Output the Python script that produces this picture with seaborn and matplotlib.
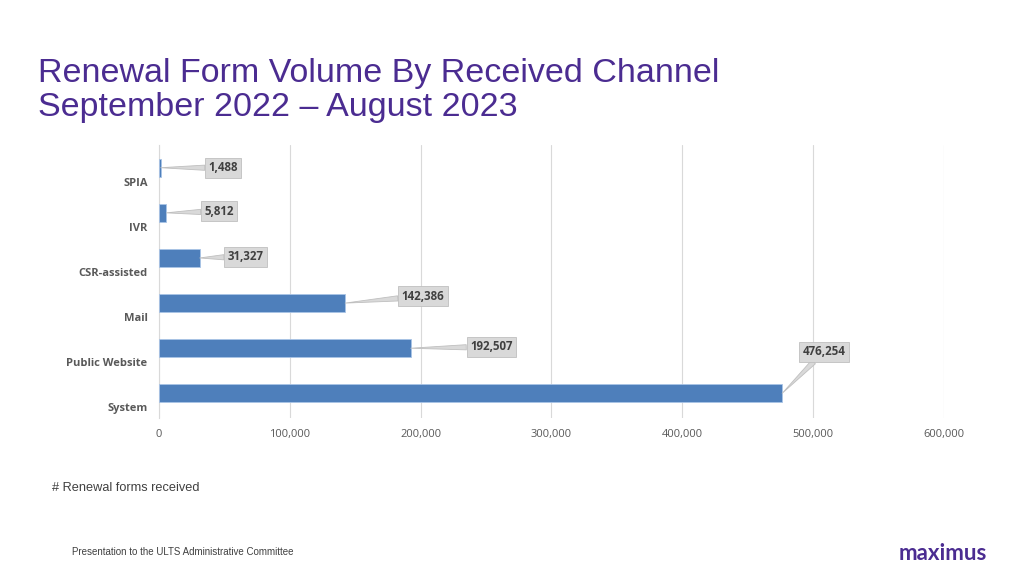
import matplotlib
matplotlib.use("Agg")
import matplotlib.pyplot as plt
import seaborn as sns
import pandas as pd

# data
channels = ["SPIA", "IVR", "CSR-assisted", "Mail", "Public Website", "System"]
forms = [1488, 5812, 31327, 142386, 192507, 476254]
x_ticks = [0, 100000, 200000, 300000, 400000, 500000, 600000]

# callout offsets (points) from bar end, styling only
label_offsets = [(45, 0), (38, 1), (33, 1), (56, 5), (58, 1), (30, 30)]

df = pd.DataFrame({"channel": channels, "forms": forms})

sns.set_theme(style="white")
plt.rcParams["font.family"] = ["Liberation Sans", "DejaVu Sans"]

fig = plt.figure(figsize=(10.24, 5.76), dpi=100)
ax = fig.add_axes([0.155, 0.274, 0.767, 0.474])

sns.barplot(data=df, y="channel", x="forms", orient="h", color="#4E7FBB",
            saturation=1, width=0.4, ax=ax, zorder=3)
for p in ax.patches:
    p.set_edgecolor("#A9C4E6")
    p.set_linewidth(0.6)

ax.set_xlim(0, 600000)
ax.set_ylim(5.55, -0.5)
ax.set_xticks(x_ticks)
ax.set_xticklabels([f"{t:,}" for t in x_ticks], fontsize=8, color="#595959",
                   family="Open Sans")
ax.set_yticks([i + 0.31 for i in range(len(channels))])
ax.set_yticklabels(channels, fontsize=8, color="#595959", fontweight="bold",
                   family="Open Sans")
ax.tick_params(axis="both", length=0, pad=8)
ax.set_xlabel("")
ax.set_ylabel("")
ax.xaxis.grid(True, color="#D9D9D9", linewidth=0.8, zorder=0)
for s in ["top", "right", "bottom"]:
    ax.spines[s].set_visible(False)
ax.spines["left"].set_color("#D9D9D9")
ax.spines["left"].set_linewidth(0.8)

for i, (v, off) in enumerate(zip(forms, label_offsets)):
    ax.annotate(f"{v:,}", xy=(v, i), xytext=off, textcoords="offset points",
                ha="center", va="center", fontsize=8.3, fontweight="bold",
                color="#404040", family="Open Sans",
                bbox=dict(boxstyle="square,pad=0.3", fc="#D9D9D9", ec="#BFBFBF", lw=0.6),
                arrowprops=dict(arrowstyle="wedge,tail_width=0.45", fc="#D9D9D9",
                                ec="#BFBFBF", lw=0.6, shrinkA=0, shrinkB=0),
                zorder=5)

purple = "#4B2C91"
fig.text(0.037, 0.872, "Renewal Form Volume By Received Channel", fontsize=24.5,
         color=purple, va="center")
fig.text(0.037, 0.813, "September 2022 \u2013 August 2023", fontsize=24.5,
         color=purple, va="center")
fig.text(0.051, 0.153, "# Renewal forms received", fontsize=9.2, color="#404040",
         va="center")
fig.text(0.07, 0.041, "Presentation to the ULTS Administrative Committee",
         fontsize=7.0, color="#404040", va="center")
fig.text(0.964, 0.039, "maximus", fontsize=16, fontweight="bold", color="#4B2C91",
         ha="right", va="center", family="Lato")

fig.savefig("out.png", dpi=100)
